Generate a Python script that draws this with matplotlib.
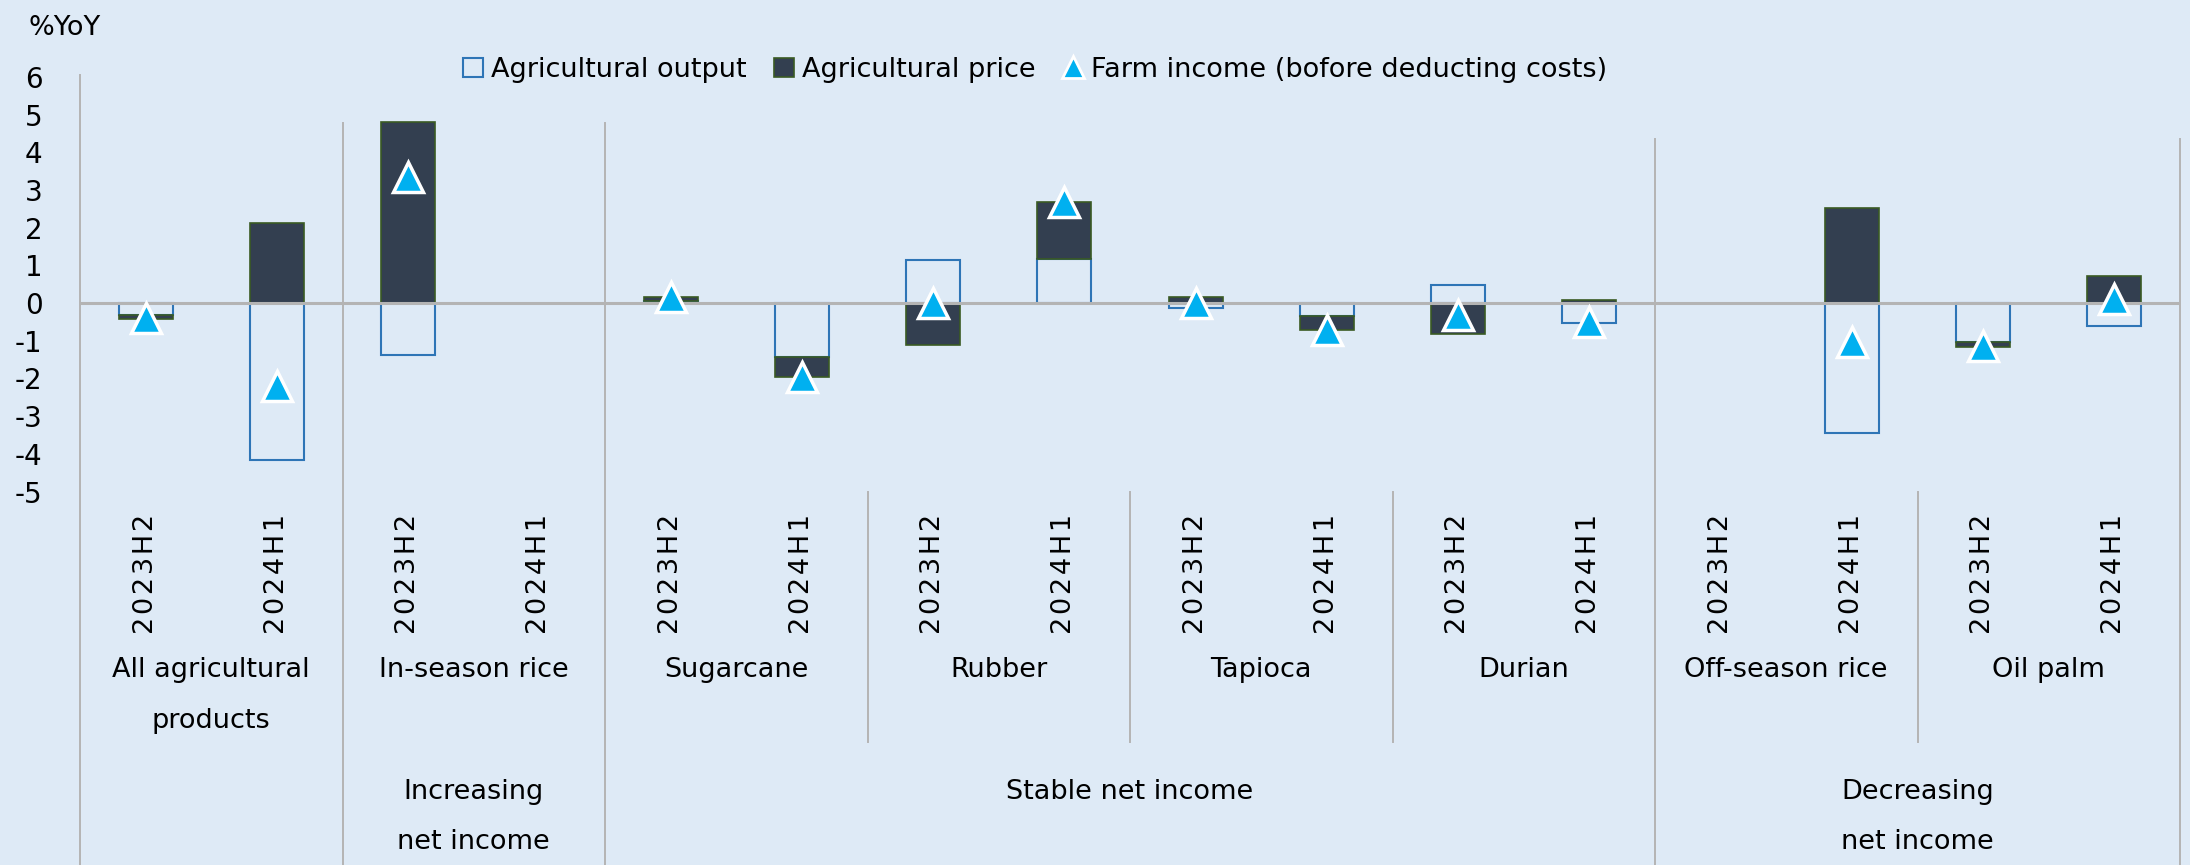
import numpy as np
import matplotlib
matplotlib.use("Agg")
import matplotlib.pyplot as plt
from matplotlib.patches import Patch
from matplotlib.lines import Line2D
from matplotlib.transforms import blended_transform_factory

plt.rcParams['font.family'] = ['DejaVu Sans']
plt.rcParams['axes.unicode_minus'] = False

# ---------------- data ----------------
periods = ["2023H2", "2024H1"]
products = ["All agricultural\nproducts", "In-season rice", "Sugarcane", "Rubber",
            "Tapioca", "Durian", "Off-season rice", "Oil palm"]
groups = ["", "Increasing\nnet income", "Stable net income", "Decreasing\nnet income"]
group_sizes = [1, 1, 4, 2]   # number of products in each group

nan = np.nan
ag_output = [-0.32, -4.15, -1.38, nan, 0.06, -1.44, 1.14, 1.18,
             -0.14, -0.35, 0.49, -0.54, nan, -3.44, -1.04, -0.61]
ag_price = [-0.09, 2.11, 4.81, nan, 0.10, -0.51, -1.12, 1.49,
            0.15, -0.36, -0.82, 0.08, nan, 2.53, -0.12, 0.72]
farm_income = [-0.40, -2.20, 3.35, nan, 0.15, -1.95, 0.01, 2.68,
               0.00, -0.71, -0.32, -0.50, nan, -1.03, -1.14, 0.10]

# ---------------- styles ----------------
BG = "#DEEAF6"
BLUE = "#2E75B6"
DARK = "#333F50"
GREEN = "#3A5A23"
CYAN = "#00B0F0"
GRID = "#B4B4B4"
FS = 19.5

W, H = 2190, 865
fig = plt.figure(figsize=(W / 100, H / 100), dpi=100, facecolor=BG)
ax = fig.add_axes([80 / W, 1 - 491.6 / H, 2100 / W, (491.6 - 76.8) / H])
ax.set_facecolor(BG)
for s in ax.spines.values():
    s.set_visible(False)

n = len(ag_output)
x = np.arange(n)
out = np.array(ag_output, dtype=float)
pr = np.array(ag_price, dtype=float)
inc = np.array(farm_income, dtype=float)

bw = 0.41
ok = ~np.isnan(out)
ax.bar(x[ok], out[ok], width=bw, facecolor="none", edgecolor=BLUE, linewidth=1.5, zorder=3)
pr_bottom = np.where(pr >= 0, np.maximum(out, 0), np.minimum(out, 0))
ok = ~np.isnan(pr)
ax.bar(x[ok], pr[ok], bottom=pr_bottom[ok], width=bw, facecolor=DARK,
       edgecolor=GREEN, linewidth=1.2, zorder=3)
ax.axhline(0, color=GRID, lw=2.2, zorder=4)
ax.plot(x, inc, ls="none", marker="^", ms=21, mfc=CYAN, mec="white", mew=2.5, zorder=6)

ax.set_xlim(-0.5, n - 0.5)
ax.set_ylim(-5, 6)
ax.set_yticks(range(-5, 7))
ax.set_xticks([])
ax.tick_params(axis="y", length=0, pad=27, labelsize=20)

# ---------------- category axis lines ----------------
trans = blended_transform_factory(ax.transData, fig.transFigure)
def fy(py):
    return 1 - py / H

def vline(xv, y_top_px, y_bot_px):
    ax.plot([xv, xv], [fy(y_top_px), fy(y_bot_px)], color=GRID, lw=1.4,
            transform=trans, clip_on=False, zorder=1)

# outer left line
vline(-0.5, 75, H)
bounds = np.cumsum([0] + group_sizes) * 2 - 0.5
tops = {1.5: 123, 3.5: 123, 11.5: 139, 15.5: 139}
for b in bounds[1:]:
    vline(b, tops.get(b, 139), H)
for k in range(1, len(products)):
    b = 2 * k - 0.5
    if b not in bounds:
        vline(b, 491.6, 742)

# period labels
for i in range(n):
    lab = "\u200a".join(periods[i % 2])
    ax.text(i, fy(574), lab, rotation=90, ha="center", va="center",
            fontsize=FS, transform=trans)

# product labels
for k, name in enumerate(products):
    for j, line in enumerate(name.split("\n")):
        ax.text(2 * k + 0.5, fy(670 + 51 * j), line, ha="center", va="center",
                fontsize=FS, transform=trans)

# group labels
start = 0
for g, size in zip(groups, group_sizes):
    xc = 2 * start + size - 0.5
    for j, line in enumerate(g.split("\n")):
        if line:
            ax.text(xc, fy(792 + 50 * j), line, ha="center", va="center",
                    fontsize=FS, transform=trans)
    start += size

fig.text(28 / W, fy(28), "%YoY", ha="left", va="center", fontsize=FS)

handles = [
    Patch(facecolor="none", edgecolor=BLUE, linewidth=1.5),
    Patch(facecolor=DARK, edgecolor=GREEN, linewidth=1.2),
    Line2D([], [], ls="none", marker="^", ms=16, mfc=CYAN, mec="white", mew=2),
]
labels = ["Agricultural output", "Agricultural price", "Farm income (bofore deducting costs)"]
fig.legend(handles, labels, loc="center", bbox_to_anchor=(1035 / W, fy(70)), ncol=3,
           frameon=False, fontsize=FS, handlelength=0.75, handleheight=0.75,
           handletextpad=0.3, columnspacing=1.0, borderpad=0)

fig.savefig("out.png", dpi=100, facecolor=BG)
